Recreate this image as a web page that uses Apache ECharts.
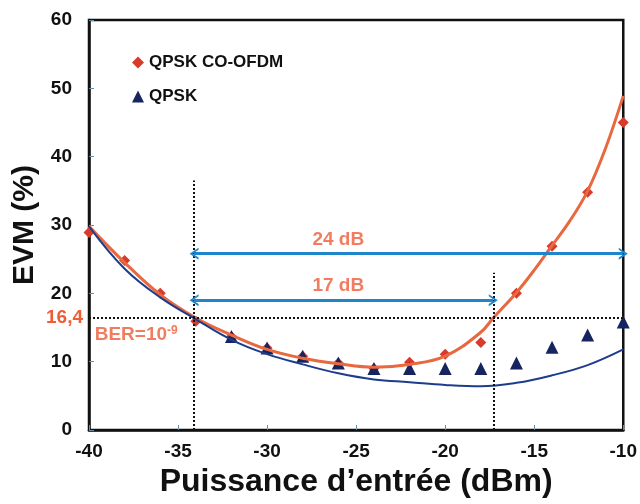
<!DOCTYPE html>
<html>
<head>
<meta charset="utf-8">
<script src="https://cdn.jsdelivr.net/npm/echarts@6/dist/echarts.min.js"></script>
<style>
  html, body { margin: 0; padding: 0; background: #fff; }
  #chart { width: 640px; height: 504px; }
</style>
</head>
<body>
<div id="chart"></div>
<script>
// points mesurés (tous les 2 dB)
var powerPts = [-40, -38, -36, -34, -32, -30, -28, -26, -24, -22, -20, -18, -16, -14, -12, -10];
var evmOfdm = [28.9, 24.8, 20, 15.9, 13.7, 12, 10.8, 9.8, 9, 9.9, 11.1, 12.8, 20, 26.9, 34.8, 45];
var evmQpsk = [null, null, null, null, 13.7, 12, 10.8, 9.8, 9, 9, 9, 9, 9.8, 12.1, 13.9, 15.8];

// courbes d'ajustement
var fitX = [-40, -38, -36, -34, -32, -30, -28, -26, -24, -22, -20, -18, -17.3, -16, -15, -14, -13, -12, -11, -10];
var fitOfdm = [29.8, 24.5, 19.8, 16.4, 13.9, 11.8, 10.5, 9.7, 9.2, 9.6, 10.8, 14.3, 16.4, 20.1, 23.4, 27, 30.6, 35, 41.2, 48.9];
var fitQpskX = [-40, -38, -36, -34, -32, -30, -28, -26, -24, -22, -20, -18, -16, -14, -12, -10];
var fitQpsk = [29.8, 23.6, 19.4, 16.2, 13.2, 11.1, 9.6, 8.3, 7.4, 7.0, 6.6, 6.4, 6.9, 8.0, 9.5, 11.8];

var berLevel = 16.4;
var limLeft = -34.1, limRight = -17.3;
var arrow24Y = 25.8, arrow17Y = 19;

var orange = '#ee5c38';
var chevron = 'path://M0,10 L5,0 L10,10 L8.2,10 L5,3.6 L1.8,10 Z';

var chart = echarts.init(document.getElementById('chart'));
chart.setOption({
    backgroundColor: '#fff',
    animation: false,
    textStyle: { fontFamily: 'Liberation Sans' },
    grid: {
        left: 89, right: 13, top: 20, bottom: 74,
        show: true, borderColor: '#111', borderWidth: 2.5
    },
    legend: {
        orient: 'vertical',
        left: 127, top: 49,
        itemGap: 17,
        itemWidth: 12, itemHeight: 12,
        textStyle: { fontSize: 17, fontWeight: 'bold', color: '#111', fontFamily: 'Liberation Sans' },
        data: [
            { name: 'QPSK CO-OFDM', icon: 'diamond' },
            { name: 'QPSK', icon: 'triangle' }
        ]
    },
    xAxis: {
        type: 'value',
        min: -40, max: -10, interval: 5,
        name: 'Puissance d\u2019entrée (dBm)',
        nameLocation: 'middle',
        nameGap: 35,
        nameTextStyle: { fontSize: 32, fontWeight: 'bold', color: '#111' },
        axisLine: { lineStyle: { color: '#111', width: 2.5 } },
        axisTick: { inside: true, length: 5, lineStyle: { color: '#5d8fb5' } },
        axisLabel: { fontSize: 19, fontWeight: 'bold', color: '#111', margin: 12 },
        splitLine: { show: false }
    },
    yAxis: {
        type: 'value',
        min: 0, max: 60, interval: 10,
        name: 'EVM (%)',
        nameLocation: 'middle',
        nameGap: 48,
        nameTextStyle: { fontSize: 30, fontWeight: 'bold', color: '#111' },
        axisLine: { lineStyle: { color: '#111', width: 2.5 } },
        axisTick: { inside: true, length: 5, lineStyle: { color: '#5d8fb5' } },
        axisLabel: { fontSize: 19, fontWeight: 'bold', color: '#111', margin: 17 },
        splitLine: { show: false }
    },
    series: [
        {
            name: 'annotations',
            type: 'line',
            data: [],
            silent: true,
            markLine: {
                silent: true,
                symbol: 'none',
                animation: false,
                lineStyle: { color: '#111', type: [2, 2], width: 2 },
                label: { show: false },
                data: [
                    [{ coord: [limLeft, 0] }, { coord: [limLeft, 36.5] }],
                    [{ coord: [limRight, 0] }, { coord: [limRight, 23] }],
                    [
                        {
                            coord: [-40, berLevel],
                            label: {
                                show: true, position: 'start', distance: 6,
                                formatter: '16,4', color: orange,
                                fontSize: 19, fontWeight: 'bold'
                            }
                        },
                        { coord: [-10, berLevel] }
                    ]
                ]
            }
        },
        {
            name: 'fleches',
            type: 'line',
            data: [],
            silent: true,
            markLine: {
                silent: true,
                symbol: [chevron, chevron],
                symbolSize: [12, 9],
                animation: false,
                lineStyle: { color: '#1f86cc', type: 'solid', width: 3 },
                label: { show: false },
                data: [
                    [{ coord: [limLeft, arrow24Y] }, { coord: [-10, arrow24Y] }],
                    [{ coord: [limLeft, arrow17Y] }, { coord: [limRight, arrow17Y] }]
                ]
            }
        },
        {
            name: 'fit CO-OFDM',
            type: 'line',
            smooth: 0.4,
            symbol: 'none',
            lineStyle: { color: '#e8683f', width: 3 },
            data: fitX.map(function (x, i) { return [x, fitOfdm[i]]; })
        },
        {
            name: 'fit QPSK',
            type: 'line',
            smooth: 0.4,
            symbol: 'none',
            lineStyle: { color: '#1d3d8c', width: 2 },
            data: fitQpskX.map(function (x, i) { return [x, fitQpsk[i]]; })
        },
        {
            name: 'QPSK CO-OFDM',
            type: 'scatter',
            symbol: 'diamond',
            symbolSize: 11,
            itemStyle: { color: '#d83a2c', opacity: 1 },
            data: powerPts.map(function (x, i) { return [x, evmOfdm[i]]; })
        },
        {
            name: 'QPSK',
            type: 'scatter',
            symbol: 'triangle',
            symbolSize: 13,
            itemStyle: { color: '#16255f', opacity: 1 },
            data: powerPts.map(function (x, i) { return [x, evmQpsk[i]]; })
                .filter(function (p) { return p[1] !== null; })
        },
        {
            name: 'textes',
            type: 'scatter',
            symbolSize: 0,
            silent: true,
            label: {
                show: true,
                position: 'inside',
                color: orange,
                fontSize: 19,
                fontWeight: 'bold',
                formatter: function (p) { return p.data[2]; },
                rich: {
                    sup: { fontSize: 12, fontWeight: 'bold', color: orange, verticalAlign: 'top', padding: [0, 0, 9, 0] }
                }
            },
            data: [
                [-26, 27.8, '24 dB'],
                [-26, 21.1, '17 dB'],
                [-37.35, 13.9, '{b|BER=10}{sup|-9}']
            ]
        }
    ]
});
</script>
</body>
</html>
